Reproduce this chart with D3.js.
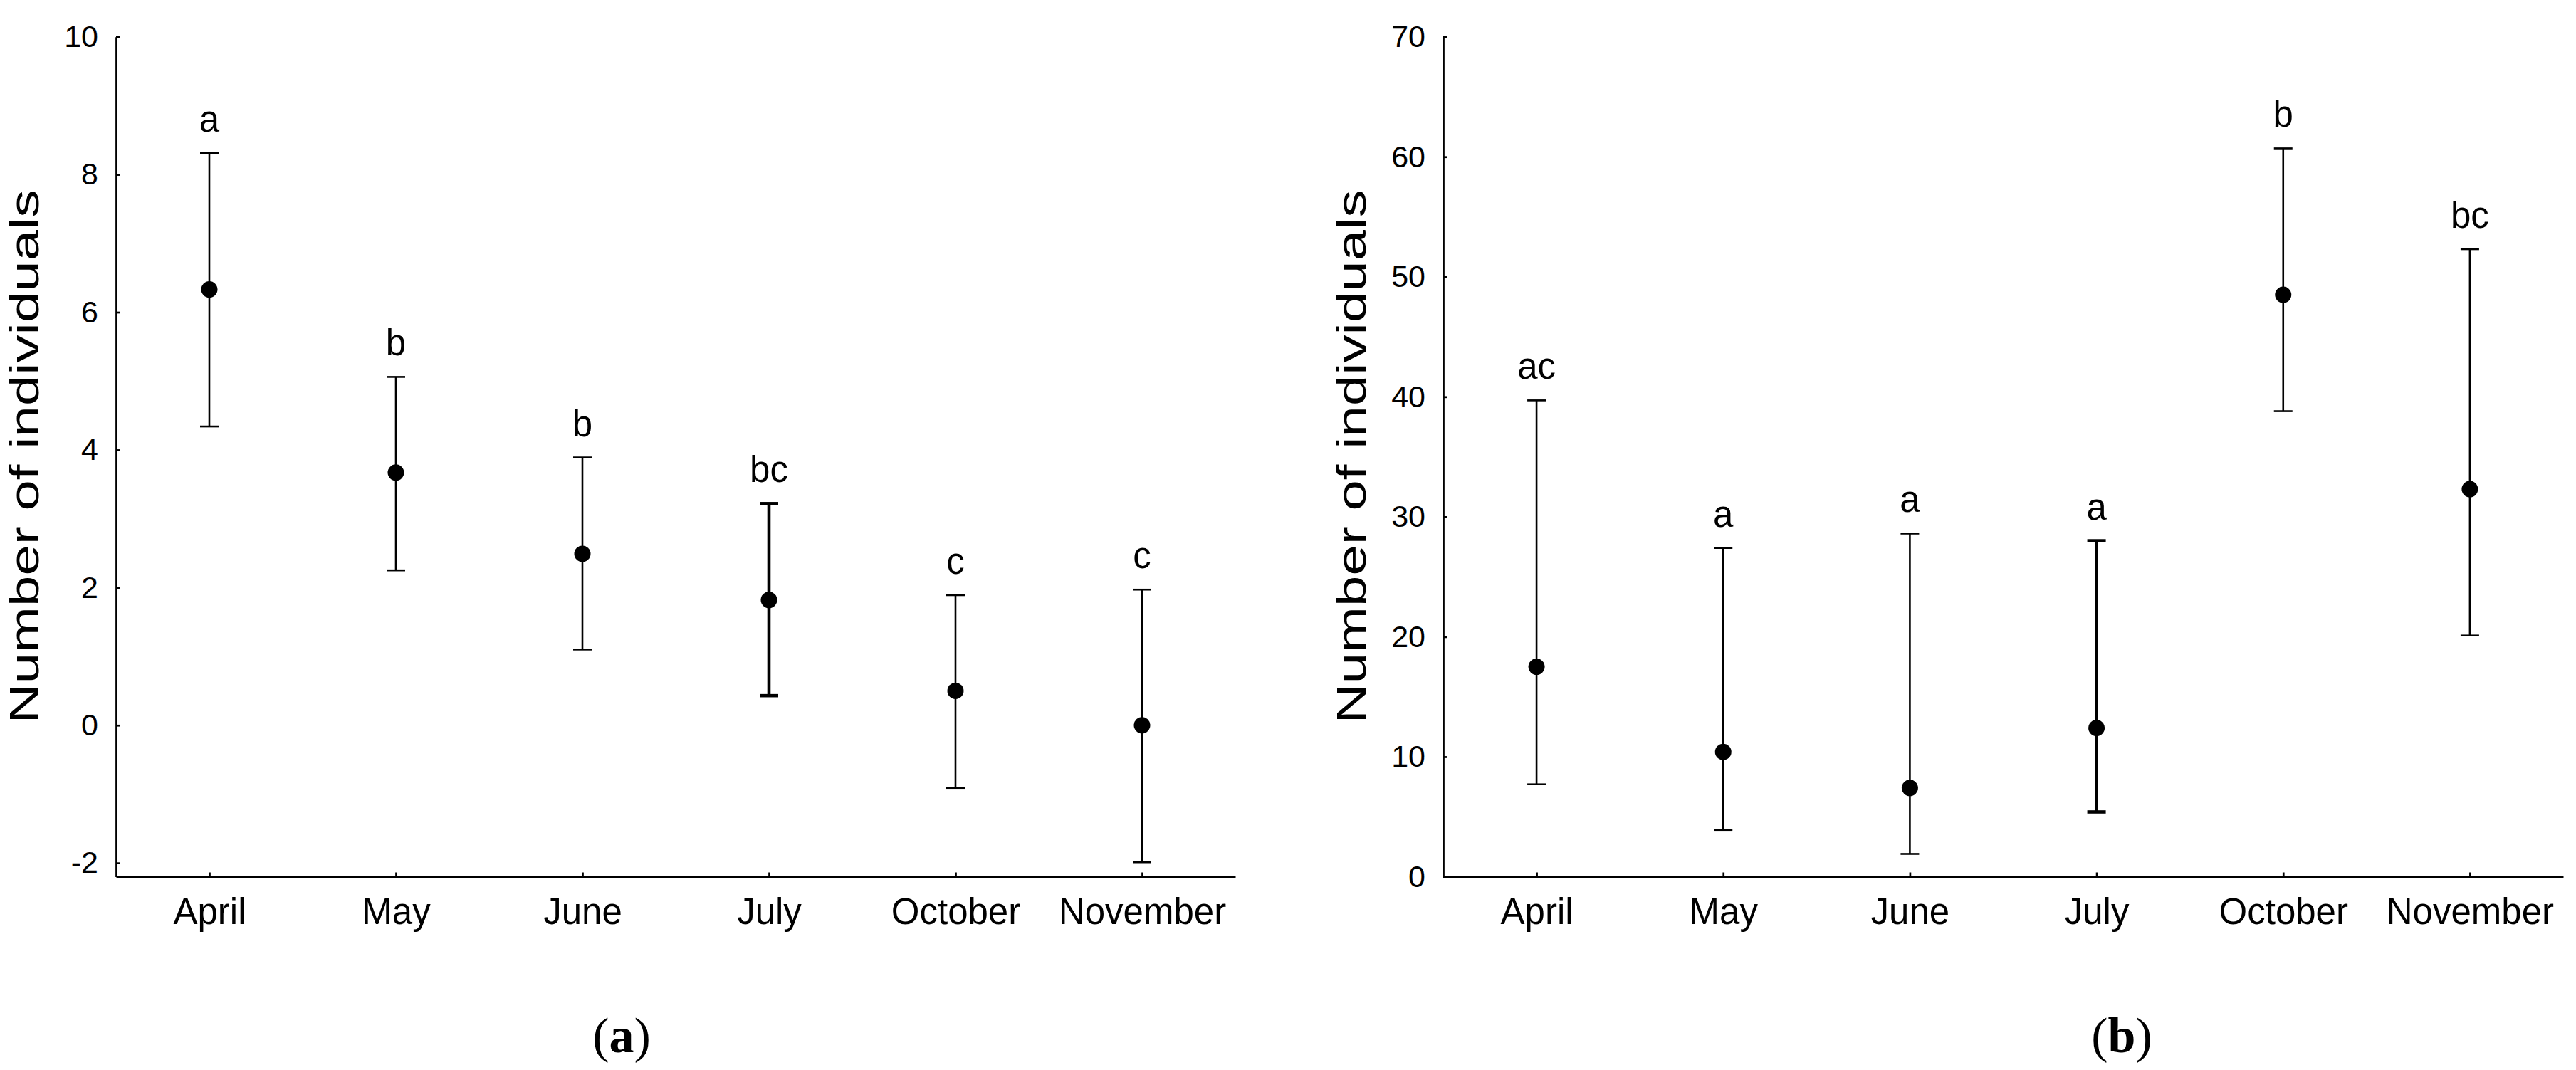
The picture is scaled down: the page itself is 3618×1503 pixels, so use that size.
<!DOCTYPE html>
<html><head><meta charset="utf-8">
<script src="https://cdn.jsdelivr.net/npm/d3@7"></script>
<style>
html,body{margin:0;padding:0;background:#fff;}
svg{display:block;}
.axis path,.axis line{stroke:#000;stroke-width:2.7;}
.axis text{font-family:"Liberation Sans",Arial,sans-serif;fill:#000;}
</style></head>
<body>
<svg id="chart" width="3618" height="1503"></svg>
<script>
// ---- data ----
const months = ["April","May","June","July","October","November"];
const meanA  = [6.33, 3.67, 2.49, 1.82, 0.50, 0.00];
const upperA = [8.31, 5.06, 3.89, 3.22, 1.89, 1.97];
const lowerA = [4.34, 2.25, 1.10, 0.43, -0.91, -1.99];
const lettersA = ["a","b","b","bc","c","c"];
const ticksA = [-2, 0, 2, 4, 6, 8, 10];

const meanB  = [17.5, 10.4, 7.4, 12.4, 48.5, 32.3];
const upperB = [39.7, 27.4, 28.6, 28.0, 60.7, 52.3];
const lowerB = [7.7, 3.9, 1.9, 5.4, 38.8, 20.1];
const lettersB = ["ac","a","a","a","b","bc"];
const ticksB = [0, 10, 20, 30, 40, 50, 60, 70];

const yTitle = "Number of individuals";
const captions = ["a","b"];
const boldMonth = "July";

// ---- drawing ----
const svg = d3.select("#chart");
const plotTop = 51.7, plotBottom = 1231.5;

function panel(cfg){
  const g = svg.append("g");
  const x = d3.scalePoint().domain(months).range([cfg.x0, cfg.x1]).padding(0.5);
  const y = d3.scaleLinear().domain(cfg.domain).range([plotBottom, plotTop]);

  const yAxis = d3.axisLeft(y).tickValues(cfg.ticks).tickSizeInner(-6).tickSizeOuter(0).tickPadding(25).tickFormat(d => String(d));
  const ga = g.append("g").attr("class","axis").attr("transform",`translate(${cfg.x0},0)`).call(yAxis);
  ga.selectAll("text").style("font-size","43px");

  const xAxis = d3.axisBottom(x).tickSizeInner(-6).tickSizeOuter(0).tickPadding(30);
  const gx = g.append("g").attr("class","axis").attr("transform",`translate(0,${plotBottom})`).call(xAxis);
  gx.selectAll("text").style("font-size","51px");

  const rows = months.map((m,i)=>({m, mean:cfg.mean[i], up:cfg.upper[i], lo:cfg.lower[i], lab:cfg.letters[i]}));
  const sw = d => d.m===boldMonth ? 4.6 : 2.6;
  const cw = 13;
  g.selectAll(".bar").data(rows).join("line")
    .attr("x1",d=>x(d.m)).attr("x2",d=>x(d.m))
    .attr("y1",d=>y(d.up)).attr("y2",d=>y(d.lo))
    .attr("stroke","#000").attr("stroke-width",sw);
  g.selectAll(".capU").data(rows).join("line")
    .attr("x1",d=>x(d.m)-cw).attr("x2",d=>x(d.m)+cw)
    .attr("y1",d=>y(d.up)).attr("y2",d=>y(d.up))
    .attr("stroke","#000").attr("stroke-width",sw);
  g.selectAll(".capL").data(rows).join("line")
    .attr("x1",d=>x(d.m)-cw).attr("x2",d=>x(d.m)+cw)
    .attr("y1",d=>y(d.lo)).attr("y2",d=>y(d.lo))
    .attr("stroke","#000").attr("stroke-width",sw);
  g.selectAll(".dot").data(rows).join("circle")
    .attr("cx",d=>x(d.m)).attr("cy",d=>y(d.mean)).attr("r",11.5).attr("fill","#000");
  g.selectAll(".lab").data(rows).join("text")
    .attr("x",d=>x(d.m)).attr("y",d=>y(d.up)-30)
    .attr("text-anchor","middle")
    .style("font-family",'"Liberation Sans",Arial,sans-serif').style("font-size","51px")
    .text(d=>d.lab);

  g.append("text")
    .attr("transform",`translate(${cfg.x0-124},${(plotTop+plotBottom)/2}) rotate(-90)`)
    .attr("text-anchor","middle").attr("dominant-baseline","middle")
    .attr("textLength",750).attr("lengthAdjust","spacingAndGlyphs")
    .style("font-family",'"Liberation Sans",Arial,sans-serif').style("font-size","58px")
    .text(yTitle);

  const cap = g.append("text").attr("x",cfg.capX).attr("y",1478).attr("text-anchor","middle")
    .style("font-family",'"Liberation Serif","Times New Roman",serif').style("font-size","70px");
  cap.append("tspan").text("(");
  cap.append("tspan").style("font-weight","bold").text(cfg.caption);
  cap.append("tspan").text(")");
}

panel({x0:163, x1:1735, domain:[-2.2,10], ticks:ticksA, mean:meanA, upper:upperA, lower:lowerA, letters:lettersA, caption:captions[0], capX:873});
panel({x0:2027, x1:3600, domain:[0,70], ticks:ticksB, mean:meanB, upper:upperB, lower:lowerB, letters:lettersB, caption:captions[1], capX:2980});
</script>
</body></html>
